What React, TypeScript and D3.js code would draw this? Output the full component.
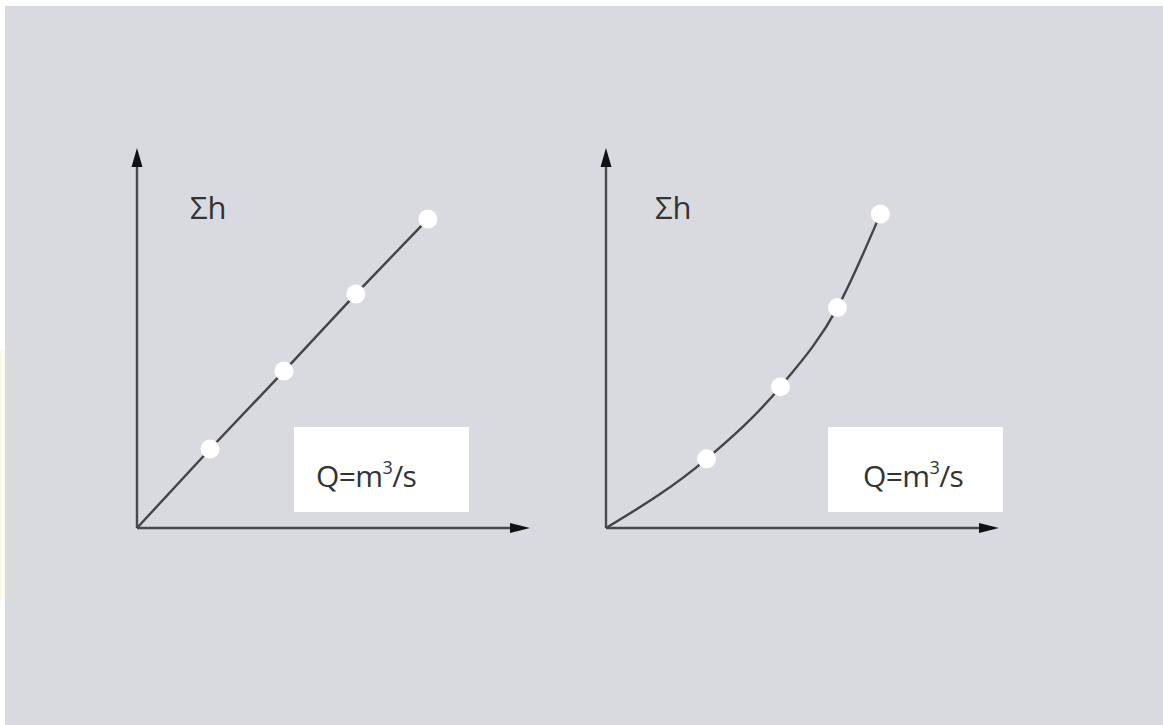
import React from "react";
import * as d3 from "d3";

// Data (percent of axis length)
const leftQ = [0, 18.6, 37.4, 55.7, 74.0];
const leftH = [0, 20.8, 41.3, 61.6, 81.3];
const rightQ = [0, 25.6, 44.4, 58.9, 69.8];
const rightH = [0, 18.2, 37.2, 58.0, 82.6];
const yLabel = "Σh";
const xLabelMain = "Q=m";
const xLabelSup = "3";
const xLabelTail = "/s";

const W = 1163;
const H = 725;
const AX_LEN_X = 393;
const AX_LEN_Y = 380;

type PanelProps = {
  ox: number;
  oy: number;
  qs: number[];
  hs: number[];
  curve: d3.CurveFactory;
  boxX: number;
  textX: number;
  labelX: number;
};

function Panel({ ox, oy, qs, hs, curve, boxX, textX, labelX }: PanelProps) {
  const x = d3.scaleLinear().domain([0, 100]).range([ox, ox + AX_LEN_X]);
  const y = d3.scaleLinear().domain([0, 100]).range([oy, oy - AX_LEN_Y]);
  const pts: [number, number][] = qs.map((q, i) => [q, hs[i]]);
  const line = d3
    .line<[number, number]>()
    .x((d) => x(d[0]))
    .y((d) => y(d[1]))
    .curve(curve);
  const axisColor = "#4a4a4c";
  const xEnd = x(100);
  const yEnd = y(100);
  return (
    <g>
      <rect x={boxX} y={427} width={175} height={85} fill="#ffffff" />
      <text
        x={textX}
        y={487}
        fontFamily="'Open Sans', 'Noto Sans', sans-serif"
        fontSize={30}
        fill="#333333"
        letterSpacing={-0.6}
      >
        {xLabelMain}
        <tspan fontSize={18} dy={-13}>
          {xLabelSup}
        </tspan>
        <tspan dy={13}>{xLabelTail}</tspan>
      </text>
      <text
        x={labelX}
        y={219}
        fontFamily="'Open Sans', 'Noto Sans', sans-serif"
        fontSize={31}
        fill="#333333"
      >
        {yLabel}
      </text>
      <line x1={ox} y1={oy} x2={xEnd - 14} y2={oy} stroke={axisColor} strokeWidth={2.4} />
      <line x1={ox} y1={oy} x2={ox} y2={yEnd + 14} stroke={axisColor} strokeWidth={2.4} />
      <path
        d={`M${xEnd},${oy} L${xEnd - 20},${oy - 5} L${xEnd - 20},${oy + 5} Z`}
        fill="#111"
      />
      <path
        d={`M${ox},${yEnd} L${ox - 5.5},${yEnd + 19} L${ox + 5.5},${yEnd + 19} Z`}
        fill="#111"
      />
      <path d={line(pts) || ""} fill="none" stroke="#444444" strokeWidth={2.4} />
      {pts.slice(1).map((p, i) => (
        <circle key={i} cx={x(p[0])} cy={y(p[1])} r={9.5} fill="#ffffff" />
      ))}
    </g>
  );
}

export default function App() {
  return (
    <>
      <style>{`body{margin:0;}`}</style>
      <svg width={W} height={H} style={{ display: "block" }}>
        <rect x={0} y={0} width={W} height={H} fill="#ffffff" />
        <rect x={0} y={350} width={5} height={250} fill="#fffaee" />
        <rect x={5} y={6} width={W - 5} height={H - 6} fill="#d9dadf" />
        <Panel
          ox={137}
          oy={528}
          qs={leftQ}
          hs={leftH}
          curve={d3.curveLinear}
          boxX={294}
          textX={316}
          labelX={190}
        />
        <Panel
          ox={606}
          oy={528}
          qs={rightQ}
          hs={rightH}
          curve={d3.curveMonotoneX}
          boxX={828}
          textX={863}
          labelX={655}
        />
      </svg>
    </>
  );
}
